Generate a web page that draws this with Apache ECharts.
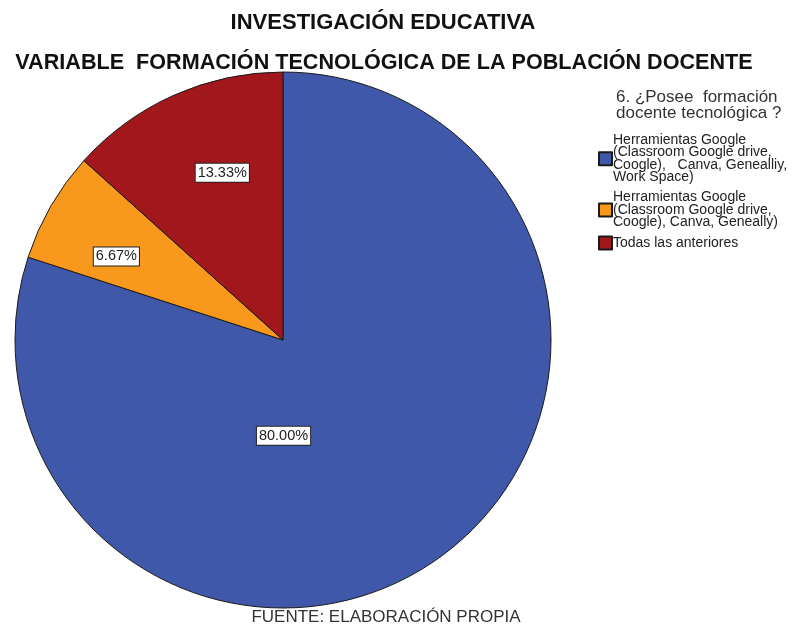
<!DOCTYPE html>
<html>
<head>
<meta charset="utf-8">
<script src="https://cdn.jsdelivr.net/npm/echarts@6/dist/echarts.min.js"></script>
<style>html,body{margin:0;padding:0;background:#fff;}#c{width:800px;height:626px;}</style>
</head>
<body>
<div id="c"></div>
<script>
const categories = [
  'Herramientas Google (Classroom Google drive, Coogle),   Canva, Genealliy, Work Space)',
  'Herramientas Google (Classroom Google drive, Coogle), Canva, Geneally)',
  'Todas las anteriores'
];
const legendText = [
  'Herramientas Google\n(Classroom Google drive,\nCoogle),   Canva, Genealliy,\nWork Space)',
  'Herramientas Google\n(Classroom Google drive,\nCoogle), Canva, Geneally)',
  'Todas las anteriores'
];
const values = [80.00, 6.67, 13.33];
const colors = ['#3f58aa', '#f8991d', '#a1171b'];
const labelShift = [[-80, -15], [-48, -15], [-5, -42]];

const FONT = '"Liberation Sans", Arial, sans-serif';
const chart = echarts.init(document.getElementById('c'));
chart.setOption({
  animation: false,
  backgroundColor: '#ffffff',
  title: [
    { text: 'INVESTIGACIÓN EDUCATIVA', left: 383, top: 12, padding: 0, textAlign: 'center',
      textStyle: { fontFamily: FONT, fontWeight: 'bold', fontSize: 22, color: '#111' } },
    { text: 'VARIABLE  FORMACIÓN TECNOLÓGICA DE LA POBLACIÓN DOCENTE', left: 384, top: 52, padding: 0, textAlign: 'center',
      textStyle: { fontFamily: FONT, fontWeight: 'bold', fontSize: 21.6, color: '#111' } },
    { text: '6. ¿Posee  formación\ndocente tecnológica ?', left: 616, top: 89, padding: 0,
      textStyle: { fontFamily: FONT, fontWeight: 'normal', fontSize: 17, lineHeight: 16, color: '#333' } },
    { text: 'FUENTE: ELABORACIÓN PROPIA', left: 386, top: 609, padding: 0, textAlign: 'center',
      textStyle: { fontFamily: FONT, fontWeight: 'normal', fontSize: 17, color: '#333' } }
  ],
  legend: {
    orient: 'vertical', left: 598, top: 133, padding: 0,
    icon: 'rect',
    itemWidth: 13, itemHeight: 13, itemGap: 6,
    data: categories,
    formatter: function (name) { return legendText[categories.indexOf(name)]; },
    textStyle: { fontFamily: FONT, fontSize: 14, lineHeight: 12.5, color: '#222', padding: [0, 0, 0, -4] },
    selectedMode: false
  },
  series: [{
    type: 'pie',
    center: [283, 340],
    radius: 268,
    startAngle: 90,
    clockwise: true,
    data: categories.map((c, i) => ({ name: c, value: values[i], itemStyle: { color: colors[i] } })),
    itemStyle: { borderColor: '#1a1a1a', borderWidth: 1 },
    label: {
      show: true, position: 'inside',
      formatter: p => p.value.toFixed(2) + '%',
      fontFamily: FONT, fontSize: 14.5, color: '#222',
      backgroundColor: '#fff', borderColor: '#222', borderWidth: 1, padding: [2, 2, 1, 2]
    },
    labelLayout: function (p) { return { dx: labelShift[p.dataIndex][0], dy: labelShift[p.dataIndex][1] }; },
    emphasis: { disabled: true }
  }]
});
</script>
</body>
</html>
